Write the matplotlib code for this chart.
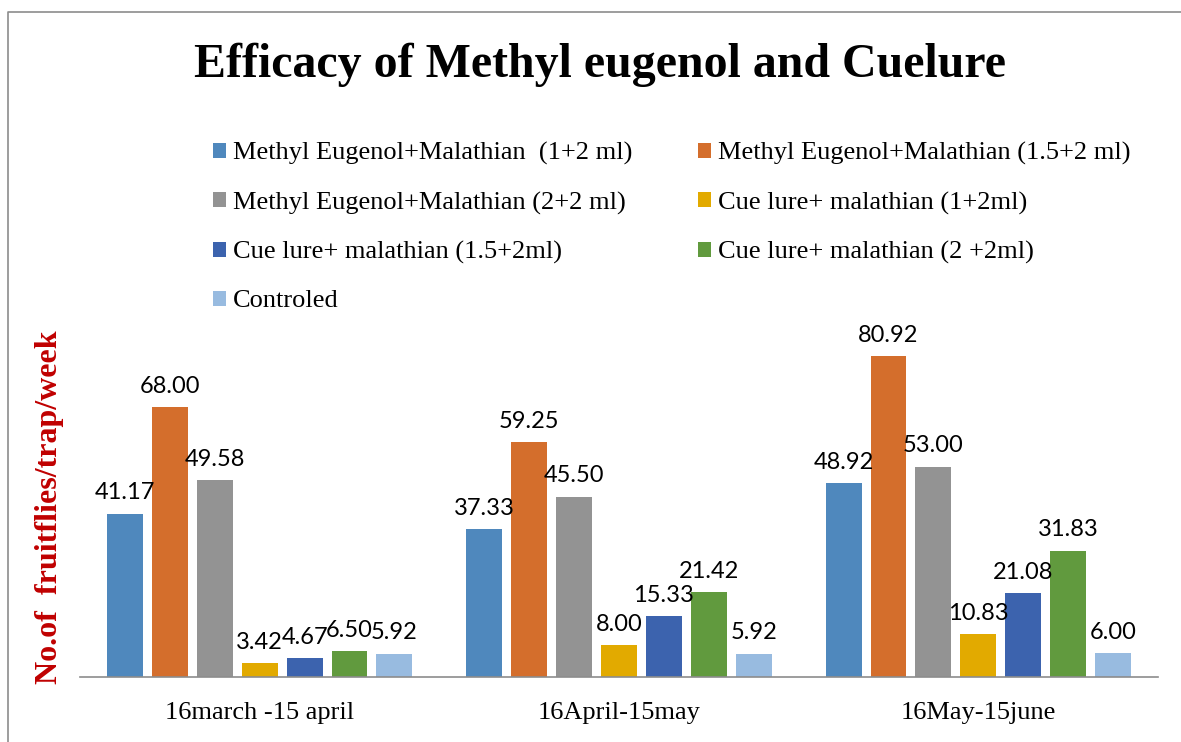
import numpy as np
import matplotlib.pyplot as plt
from matplotlib.lines import Line2D

# data
periods = ["16march -15 april", "16April-15may", "16May-15june"]
series_names = [
    "Methyl Eugenol+Malathian  (1+2 ml)",
    "Methyl Eugenol+Malathian (1.5+2 ml)",
    "Methyl Eugenol+Malathian (2+2 ml)",
    "Cue lure+ malathian (1+2ml)",
    "Cue lure+ malathian (1.5+2ml)",
    "Cue lure+ malathian (2 +2ml)",
    "Controled",
]
me_1 = [41.17, 37.33, 48.92]
me_15 = [68.00, 59.25, 80.92]
me_2 = [49.58, 45.50, 53.00]
cl_1 = [3.42, 8.00, 10.83]
cl_15 = [4.67, 15.33, 21.08]
cl_2 = [6.50, 21.42, 31.83]
control = [5.92, 5.92, 6.00]
all_values = [me_1, me_15, me_2, cl_1, cl_15, cl_2, control]

colors = ["#4f88bd", "#d46e2c", "#939393", "#e2aa00", "#3c63ae", "#619a3e", "#98bbe0"]

fig = plt.figure(figsize=(11.81, 7.42), dpi=100)
ax = fig.add_axes([80 / 1181, 1 - 677 / 742, (1158 - 80) / 1181, (677 - 320) / 742])

x = np.arange(len(periods))
width = 0.1
pitch = 0.125
for i, (name, vals) in enumerate(zip(series_names, all_values)):
    pos = x + (i - 3) * pitch
    bars = ax.bar(pos, vals, width, color=colors[i], label=name)
    for b, v in zip(bars, vals):
        ax.text(b.get_x() + b.get_width() / 2, v + 2.6, "%.2f" % v,
                ha="center", va="bottom", fontsize=17, family="Lato", color="black")

ax.set_xlim(-0.5, 2.5)
ax.set_ylim(0, 90)
ax.set_xticks(x)
ax.set_xticklabels(periods, family="Liberation Serif", fontsize=19)
ax.tick_params(axis="x", length=0, pad=18)
ax.set_yticks([])
for s in ["top", "right", "left"]:
    ax.spines[s].set_visible(False)
ax.spines["bottom"].set_color("#8c8c8c")
ax.spines["bottom"].set_linewidth(1.2)

fig.text(600 / 1181, 1 - 65 / 742, "Efficacy of Methyl eugenol and Cuelure",
         ha="center", va="center", family="Liberation Serif", fontweight="bold", fontsize=34.5)

fig.text(50 / 1181, 1 - 507 / 742, "No.of  fruitflies/trap/week", rotation=90,
         ha="center", va="center", family="Liberation Serif", fontweight="bold",
         fontsize=23, color="#c00000")

handles, labels = ax.get_legend_handles_labels()
# reorder so that the legend reads row by row in two columns
order = [0, 2, 4, 6, 1, 3, 5]
leg = fig.legend([handles[k] for k in order], [labels[k] for k in order], ncol=2,
                 loc="upper left", bbox_to_anchor=(213 / 1181, 1 - 142 / 742),
                 frameon=False, prop={"family": "Liberation Serif", "size": 19},
                 handlelength=0.5, handleheight=0.5, handletextpad=0.25,
                 columnspacing=2.5, labelspacing=1.0, borderpad=0, borderaxespad=0)

# figure border (only left and top edges visible)
fig.add_artist(Line2D([8 / 1181, 8 / 1181, 1.0], [0.0, 1 - 12 / 742, 1 - 12 / 742],
                      transform=fig.transFigure, color="#8c8c8c", linewidth=1.2))

fig.savefig("out.png", dpi=100)
